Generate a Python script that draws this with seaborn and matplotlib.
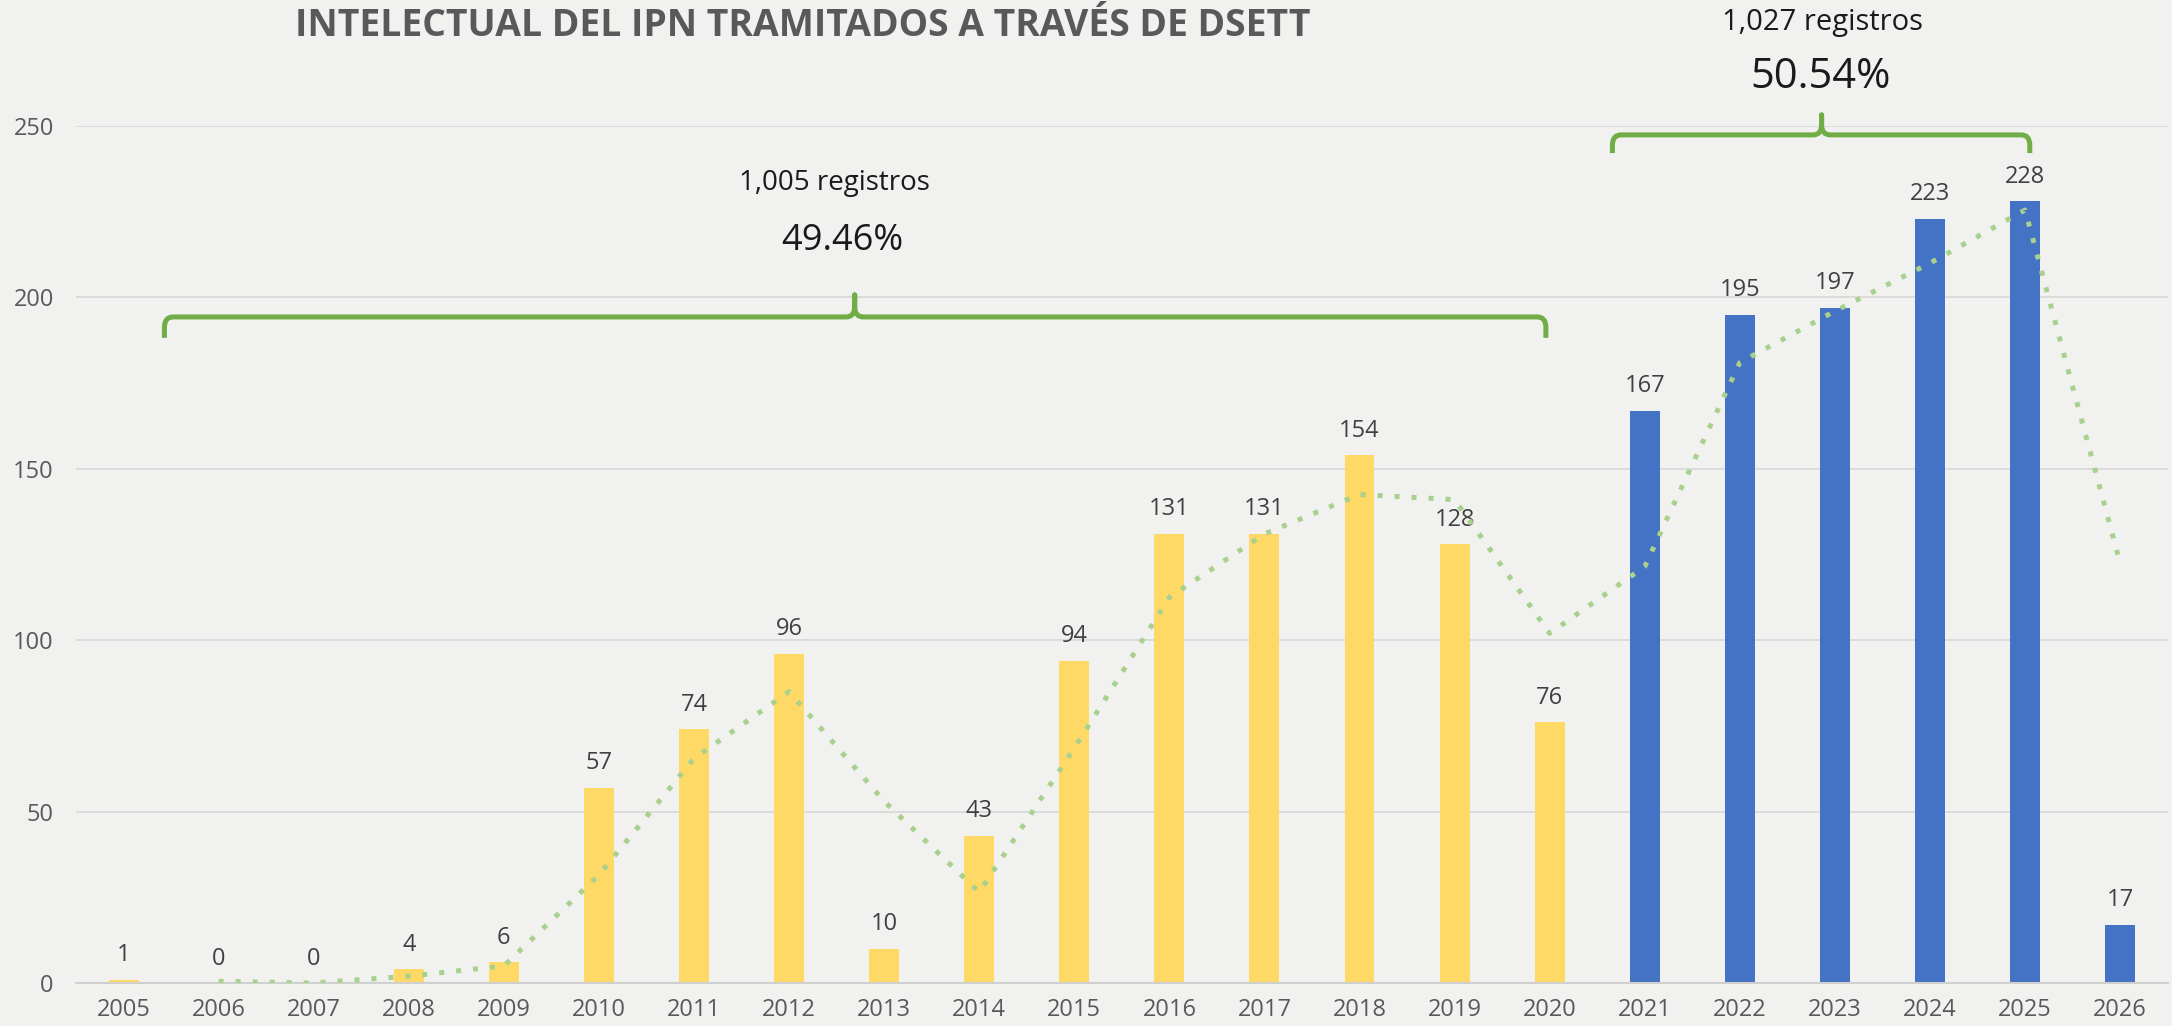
import numpy as np
import pandas as pd
import matplotlib
matplotlib.use("Agg")
import matplotlib.pyplot as plt
from matplotlib.path import Path
from matplotlib.patches import PathPatch
import seaborn as sns

# ---------------- data ----------------
years = [str(y) for y in range(2005, 2027)]
registros = [1, 0, 0, 4, 6, 57, 74, 96, 10, 43, 94, 131, 131, 154, 128, 76,
             167, 195, 197, 223, 228, 17]
periodo = ["2005-2020"] * 16 + ["2021-2026"] * 6
# moving-average trendline (2 periods)
tendencia = [np.nan, 0.5, 0, 2, 5, 31.5, 65.5, 85, 53, 26.5, 68.5, 112.5, 131,
             142.5, 141, 102, 121.5, 181, 196, 210, 225.5, 122.5]
yticks = [0, 50, 100, 150, 200, 250]
titulo = "INTELECTUAL DEL IPN TRAMITADOS A TRAVÉS DE DSETT"
grupo1_txt = ("1,005 registros", "49.46%")
grupo2_txt = ("1,027 registros", "50.54%")

colores = {"2005-2020": "#FFD966", "2021-2026": "#4472C4"}
bg = "#F1F1F0"

df = pd.DataFrame({"year": years, "value": registros, "period": periodo})

sns.set_theme(style="white")
plt.rcParams["font.family"] = ["Open Sans", "DejaVu Sans"]

fig = plt.figure(figsize=(21.72, 10.26), dpi=100, facecolor=bg)
ax = fig.add_axes([0.035, 0.0419, 0.963, 0.8353])
ax.set_facecolor(bg)

sns.barplot(data=df, x="year", y="value", hue="period", palette=colores,
            width=0.315, dodge=False, legend=False, saturation=1,
            linewidth=0, edgecolor="none", ax=ax)

for cont in ax.containers:
    ax.bar_label(cont, fmt="%d", padding=9, fontsize=17, color="#404040")

xpos = np.arange(len(years))
ax.plot(xpos, tendencia, color="#A9D18E", lw=3.6, linestyle=(0, (1, 2.4)),
        dash_capstyle="butt", zorder=3)

ax.set_xlim(-0.5, len(years) - 0.5)
ax.set_ylim(0, 250)
ax.set_yticks(yticks)
ax.set_xlabel("")
ax.set_ylabel("")
ax.grid(axis="y", color="#D9D9D9", lw=1.3)
ax.grid(axis="x", visible=False)
ax.set_axisbelow(True)
for s in ["top", "right", "left"]:
    ax.spines[s].set_visible(False)
ax.spines["bottom"].set_color("#D0D0D0")
ax.spines["bottom"].set_linewidth(1.5)
ax.tick_params(axis="x", length=0, pad=11, labelsize=17, labelcolor="#595959")
ax.tick_params(axis="y", length=0, pad=16, labelsize=17, labelcolor="#595959")


def bracket(ax, x0, x1, xt, y_end, y_line, y_tip, rx=0.09, ry=3.0):
    verts = [
        (x0, y_end), (x0, y_line - ry),
        (x0, y_line), (x0 + rx, y_line),
        (xt - rx, y_line),
        (xt, y_line), (xt, y_line + ry),
        (xt, y_tip),
        (xt, y_line + ry),
        (xt, y_line), (xt + rx, y_line),
        (x1 - rx, y_line),
        (x1, y_line), (x1, y_line - ry),
        (x1, y_end),
    ]
    codes = [Path.MOVETO, Path.LINETO,
             Path.CURVE3, Path.CURVE3,
             Path.LINETO,
             Path.CURVE3, Path.CURVE3,
             Path.LINETO,
             Path.LINETO,
             Path.CURVE3, Path.CURVE3,
             Path.LINETO,
             Path.CURVE3, Path.CURVE3,
             Path.LINETO]
    patch = PathPatch(Path(verts, codes), fill=False, edgecolor="#70AD47",
                      lw=3.6, capstyle="butt", joinstyle="round",
                      clip_on=False, zorder=4)
    ax.add_patch(patch)


bracket(ax, 0.43, 14.96, 7.69, 188.2, 194.3, 200.7)
bracket(ax, 15.66, 20.05, 17.86, 242.1, 247.4, 253.2)

ax.text(7.48, 233.4, grupo1_txt[0], ha="center", va="center", fontsize=20,
        color="#1A1A1A", clip_on=False)
ax.text(7.56, 216.5, grupo1_txt[1], ha="center", va="center", fontsize=26,
        color="#1A1A1A", clip_on=False)
ax.text(17.87, 280.3, grupo2_txt[0], ha="center", va="center", fontsize=21,
        color="#1A1A1A", clip_on=False)
ax.text(17.85, 264.3, grupo2_txt[1], ha="center", va="center", fontsize=30,
        color="#1A1A1A", clip_on=False)

fig.text(0.3695, 0.965, titulo, ha="center", va="baseline", fontsize=26.8,
         fontweight="bold", color="#595959")

fig.savefig("out.png", dpi=100, facecolor=bg)
